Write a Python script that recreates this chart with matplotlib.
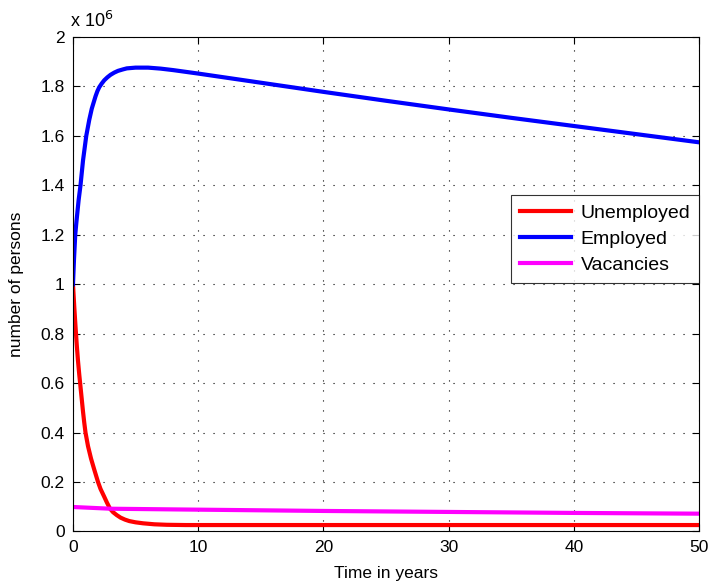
import matplotlib
matplotlib.use("Agg")
import matplotlib.pyplot as plt

plt.rcParams['font.family'] = ['Liberation Sans', 'DejaVu Sans']

# values in millions of persons
t_unemp = [0, 0.1, 0.2, 0.3, 0.4, 0.5, 0.6, 0.7, 0.8, 0.9, 1.0, 1.2, 1.44, 1.7, 2.0, 2.2, 2.5, 2.7,
           2.96, 3.2, 3.5, 3.8, 4.15, 4.5, 5, 5.6, 6.5, 7.5, 9, 10, 20, 30, 40, 50]
unemployed = [1.0, 0.91, 0.83, 0.755, 0.69, 0.635, 0.585, 0.535, 0.485, 0.44, 0.40, 0.345, 0.295, 0.25,
              0.20, 0.172, 0.14, 0.118, 0.092, 0.078, 0.066, 0.056, 0.048, 0.042, 0.037, 0.033,
              0.029, 0.027, 0.026, 0.026, 0.026, 0.026, 0.026, 0.026]

t_emp = [0, 0.08, 0.18, 0.27, 0.35, 0.45, 0.6, 0.8, 1.06, 1.3, 1.5, 1.8, 1.95, 2.1, 2.3, 2.5, 2.75,
         3, 3.3, 3.6, 4, 4.3, 5, 6, 7, 8, 10, 15, 20, 25, 30, 35, 40, 45, 50]
employed = [1.0, 1.1, 1.2, 1.25, 1.29, 1.34, 1.4, 1.5, 1.6, 1.665, 1.71, 1.76, 1.781, 1.797, 1.812,
            1.825, 1.837, 1.847, 1.856, 1.863, 1.869, 1.873, 1.876, 1.876, 1.872, 1.866, 1.852,
            1.815, 1.778, 1.742, 1.707, 1.673, 1.640, 1.607, 1.574]

t_vac = [0, 3, 8.5, 20, 30, 40, 50]
vacancies = [0.099, 0.092, 0.089, 0.083, 0.079, 0.075, 0.072]

yticks = [0, 0.2, 0.4, 0.6, 0.8, 1, 1.2, 1.4, 1.6, 1.8, 2]
ytick_labels = ["0", "0.2", "0.4", "0.6", "0.8", "1", "1.2", "1.4", "1.6", "1.8", "2"]
xticks = [0, 10, 20, 30, 40, 50]

fig = plt.figure(figsize=(7.1, 5.85), dpi=100)
ax = fig.add_axes([0.1028, 0.0915, 0.8817, 0.8453])

ax.plot(t_unemp, unemployed, color="red", lw=3, label="Unemployed")
ax.plot(t_emp, employed, color="blue", lw=3, label="Employed")
ax.plot(t_vac, vacancies, color="magenta", lw=3, label="Vacancies")

ax.set_xlim(0, 50)
ax.set_ylim(0, 2)
ax.set_xticks(xticks)
ax.set_yticks(yticks)
ax.set_yticklabels(ytick_labels)
ax.tick_params(direction="in", top=True, right=True, labelsize=12.5, length=5, pad=6)
ax.grid(True, linestyle=(0, (1, 8)), color="black", linewidth=0.8)

ax.text(-0.005, 1.012, r"x 10$^{6}$", transform=ax.transAxes, fontsize=13, ha="left", va="bottom")

ax.set_xlabel("Time in years", fontsize=12.5, labelpad=8)
ax.set_ylabel("number of persons", fontsize=12.5, labelpad=12)

leg = ax.legend(loc="upper right", bbox_to_anchor=(1.0, 0.68), fontsize=14, frameon=True,
                fancybox=False, edgecolor="black", handlelength=2.6, handletextpad=0.5,
                borderaxespad=0, labelspacing=0.45, borderpad=0.45)
leg.get_frame().set_linewidth(0.8)

plt.savefig("out.png", dpi=100)
